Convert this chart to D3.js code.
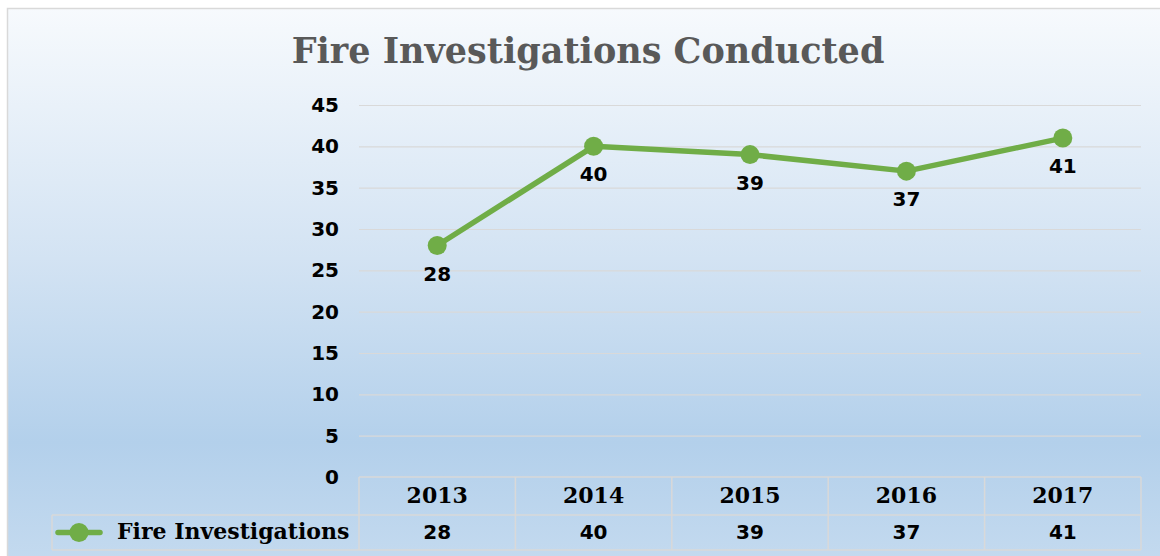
<!DOCTYPE html>
<html>
<head>
<meta charset="utf-8">
<script src="https://cdn.jsdelivr.net/npm/d3@7"></script>
<style>
  body { margin: 0; background: #fff; }
  svg { display: block; }
</style>
</head>
<body>
<svg id="canvas" width="1160" height="556"></svg>
<script>
// data
var years = ['2013', '2014', '2015', '2016', '2017'];
var investigations = [28, 40, 39, 37, 41];
var yTicks = [0, 5, 10, 15, 20, 25, 30, 35, 40, 45];
var seriesName = 'Fire Investigations';
var title = 'Fire Investigations Conducted';

var svg = d3.select('#canvas');
var W = 1160, H = 556;
var green = '#70ad47';
var serif = '"DejaVu Serif", "Liberation Serif", serif';
var sans = '"DejaVu Sans", Verdana, sans-serif';

// background gradient
var defs = svg.append('defs');
var lg = defs.append('linearGradient').attr('id', 'bg').attr('x1', 0).attr('y1', 0).attr('x2', 0).attr('y2', 1);
lg.append('stop').attr('offset', '0%').attr('stop-color', '#f7fafd');
lg.append('stop').attr('offset', '45%').attr('stop-color', '#d3e3f3');
lg.append('stop').attr('offset', '78%').attr('stop-color', '#b3d0eb');
lg.append('stop').attr('offset', '100%').attr('stop-color', '#c4daef');

svg.append('rect').attr('x', 7.5).attr('y', 8.5).attr('width', W).attr('height', H)
  .style('fill', 'url(#bg)').style('stroke', '#d9d9d9').style('stroke-width', 1.5);

// title
svg.append('text').attr('x', 588).attr('y', 63).attr('text-anchor', 'middle')
  .style('font-family', serif).style('font-weight', 'bold').style('font-size', '35px')
  .style('fill', '#595959').text(title);

// scales
var x = d3.scaleBand().domain(years).range([359, 1141]);
var y = d3.scaleLinear().domain([0, 45]).range([477, 105]);

// gridlines
var grid = svg.append('g');
grid.selectAll('line').data(yTicks.filter(function(d){ return d > 0; })).enter().append('line')
  .attr('x1', 359).attr('x2', 1141)
  .attr('y1', function(d){ return y(d) + 0.5; }).attr('y2', function(d){ return y(d) + 0.5; })
  .style('stroke', '#d9d9d9').style('stroke-width', 1.2);

// y axis
var yAxis = svg.append('g').attr('transform', 'translate(339,0)')
  .call(d3.axisLeft(y).tickValues(yTicks).tickSize(0).tickPadding(0));
yAxis.select('.domain').remove();
yAxis.selectAll('text').style('font-family', sans).style('font-weight', 'bold')
  .style('font-size', '20px').style('fill', '#000');

// line
var cx = function(i){ return x(years[i]) + x.bandwidth() / 2; };
var line = d3.line().x(function(d, i){ return cx(i); }).y(function(d){ return y(d); });
svg.append('path').datum(investigations).attr('d', line)
  .style('fill', 'none').style('stroke', green).style('stroke-width', 5.5).style('stroke-linejoin', 'round');
svg.selectAll('circle.pt').data(investigations).enter().append('circle').attr('class', 'pt')
  .attr('cx', function(d, i){ return cx(i); }).attr('cy', function(d){ return y(d); })
  .attr('r', 9.5).style('fill', green);

// data labels
svg.selectAll('text.lbl').data(investigations).enter().append('text').attr('class', 'lbl')
  .attr('x', function(d, i){ return cx(i); }).attr('y', function(d){ return y(d) + 35; })
  .attr('text-anchor', 'middle')
  .style('font-family', sans).style('font-weight', 'bold').style('font-size', '20px').style('fill', '#000')
  .text(function(d){ return d; });

// data table
var rowTop = 477, rowMid = 515, rowBot = 550, legendLeft = 52;
var tbl = svg.append('g').style('stroke', '#d9d9d9').style('stroke-width', 1.5).style('fill', 'none');
tbl.append('line').attr('x1', 359).attr('x2', 1141).attr('y1', rowTop).attr('y2', rowTop);
tbl.append('line').attr('x1', legendLeft).attr('x2', 1141).attr('y1', rowMid).attr('y2', rowMid);
tbl.append('line').attr('x1', legendLeft).attr('x2', 1141).attr('y1', rowBot).attr('y2', rowBot);
tbl.append('line').attr('x1', legendLeft).attr('x2', legendLeft).attr('y1', rowMid).attr('y2', rowBot);
tbl.selectAll('line.v').data(years.concat(['end'])).enter().append('line').attr('class', 'v')
  .attr('x1', function(d, i){ return i < years.length ? x(d) : x.range()[1]; })
  .attr('x2', function(d, i){ return i < years.length ? x(d) : x.range()[1]; })
  .attr('y1', rowTop).attr('y2', rowBot);

svg.selectAll('text.yr').data(years).enter().append('text').attr('class', 'yr')
  .attr('x', function(d, i){ return cx(i); }).attr('y', 503).attr('text-anchor', 'middle')
  .style('font-family', serif).style('font-weight', 'bold').style('font-size', '22px').style('fill', '#000')
  .text(function(d){ return d; });
svg.selectAll('text.val').data(investigations).enter().append('text').attr('class', 'val')
  .attr('x', function(d, i){ return cx(i); }).attr('y', 539).attr('text-anchor', 'middle')
  .style('font-family', sans).style('font-weight', 'bold').style('font-size', '20px').style('fill', '#000')
  .text(function(d){ return d; });

// legend key
var ly = (rowMid + rowBot) / 2;
svg.append('line').attr('x1', 58).attr('x2', 100).attr('y1', ly).attr('y2', ly)
  .style('stroke', green).style('stroke-width', 5.5).style('stroke-linecap', 'round');
svg.append('circle').attr('cx', 79).attr('cy', ly).attr('r', 9.5).style('fill', green);
svg.append('text').attr('x', 117).attr('y', 539)
  .style('font-family', serif).style('font-weight', 'bold').style('font-size', '22px').style('fill', '#000')
  .text(seriesName);
</script>
</body>
</html>
